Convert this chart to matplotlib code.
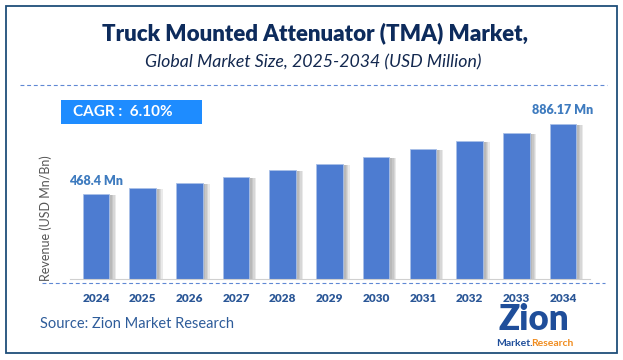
import matplotlib
matplotlib.use("Agg")
from matplotlib import pyplot as plt
from matplotlib import patheffects as pe
from matplotlib.patches import Rectangle
import numpy as np

plt.rcParams['font.family'] = ['Lato', 'DejaVu Sans']

years = ['2024', '2025', '2026', '2027', '2028', '2029', '2030', '2031', '2032', '2033', '2034']
values = [468.4, 502.6, 534.3, 570.3, 610.5, 646.4, 688.4, 738.1, 784.3, 834.0, 886.17]
first_label = '468.4 Mn'
last_label = '886.17 Mn'
cagr_text = 'CAGR :  6.10%'

W, H = 623, 360
fig = plt.figure(figsize=(W / 100, H / 100), dpi=100)


def fx(px):
    return px / W


def fy(py):
    return 1 - py / H


# outer frame
fig.patches.append(Rectangle((fx(6), fy(353)), fx(611), 347 / H, transform=fig.transFigure,
                             fill=False, edgecolor='#1F4E79', linewidth=1.3))

# titles
fig.text(fx(315), fy(33), 'Truck Mounted Attenuator (TMA) Market,', ha='center', va='center',
         fontsize=16, fontweight='heavy', color='#0D2B5C')
fig.text(fx(313), fy(62), 'Global Market Size, 2025-2034 (USD Million)', ha='center', va='center',
         fontsize=12.8, fontstyle='italic', color='#13284F')

# dashed separators
fig.add_artist(plt.Line2D([fx(20), fx(607)], [fy(85), fy(85)], transform=fig.transFigure,
                          color='#5F88D4', linewidth=0.8, linestyle=(0, (3.5, 2.5))))
fig.add_artist(plt.Line2D([fx(42), fx(605)], [fy(283), fy(283)], transform=fig.transFigure,
                          color='#5F88D4', linewidth=0.8, linestyle=(0, (3.5, 2.5))))

# bar axes
ax = fig.add_axes([fx(70), fy(279), fx(520), (279 - 110) / H])
x = np.arange(len(years))
base = -42.9
shadow = [pe.SimplePatchShadow(offset=(d, -1), shadow_rgbFace='#555555', alpha=0.12) for d in (2, 3, 4, 5)]
bars = ax.bar(x, np.array(values) - base, bottom=base, width=0.57, color='#4D7CD1',
              edgecolor='#A9C0E8', linewidth=0.6)
for b in bars:
    b.set_path_effects(shadow + [pe.Normal()])
ax.set_xlim(-0.555, 10.58)
ax.set_ylim(base, base + 169 * 5.994)
ax.set_yticks([])
ax.set_xticks(x)
ax.set_xticklabels(years, fontsize=8.5, fontweight='heavy', color='#2B5797')
ax.tick_params(axis='x', length=0, pad=10)
for s in ['top', 'right', 'left']:
    ax.spines[s].set_visible(False)
ax.spines['bottom'].set_color('#D0D0D0')
ax.patch.set_alpha(0)

ax.annotate(first_label, (x[0], values[0]), xytext=(0, 13), textcoords='offset pixels',
            ha='center', va='center', fontsize=9, fontweight='heavy', color='#3E7BBF')
ax.annotate(last_label, (x[-1], values[-1]), xytext=(0, 14), textcoords='offset pixels',
            ha='center', va='center', fontsize=9, fontweight='heavy', color='#3E7BBF')

# y label
fig.text(fx(46), fy(218), 'Revenue (USD Mn/Bn)', rotation=90, ha='center', va='center',
         fontsize=9, color='#555555')

# CAGR box
fig.patches.append(Rectangle((fx(61), fy(124)), fx(141), 24 / H, transform=fig.transFigure,
                             facecolor='#1E8CFF', edgecolor='none'))
fig.text(fx(73), fy(112), cagr_text, ha='left', va='center', fontsize=11,
         fontweight='bold', color='white')

# source
fig.text(fx(40), fy(324), 'Source: Zion Market Research', ha='left', va='center',
         fontsize=10.5, color='#2E5C9A')

# logo
fig.text(fx(534), fy(319), 'Zion', ha='center', va='center', fontsize=25,
         fontweight='heavy', color='#1F4E9A')
fig.text(fx(514), fy(343), 'Market.', ha='center', va='center', fontsize=7.5,
         fontweight='bold', color='#1F4E9A')
fig.text(fx(552), fy(343), 'Research', ha='center', va='center', fontsize=7.5,
         fontweight='bold', color='#F08C1E')

fig.savefig('out.png', dpi=100)
